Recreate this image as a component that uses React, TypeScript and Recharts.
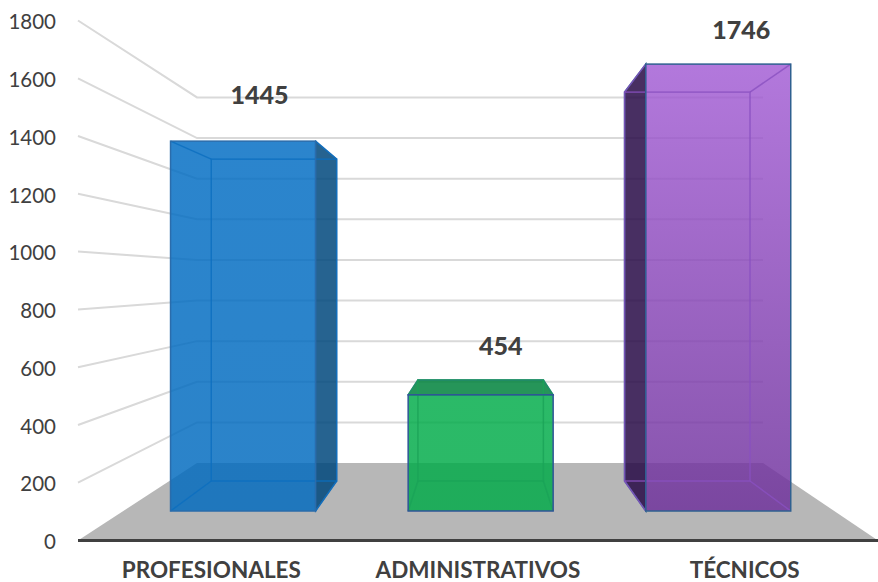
import React from "react";
import { BarChart, Bar, XAxis, YAxis, CartesianGrid, LabelList } from "recharts";

const categories = ["PROFESIONALES", "ADMINISTRATIVOS", "TÉCNICOS"];
const values = [1445, 454, 1746];
const yTicks = [0, 200, 400, 600, 800, 1000, 1200, 1400, 1600, 1800];

const data = categories.map((name, i) => ({ name, value: values[i] }));

const W = 878;
const H = 582;
const PLOT_LEFT = 78;
const PLOT_TOP = 20.5;
const PLOT_BOTTOM = 540.5;
const XAXIS_H = H - PLOT_BOTTOM;

// 3-D projection: the plot plane seen in perspective
const VANISH_X = 480.5;
const CENTER_X = 478;
const FRONT_X = 0.891;
const BACK_X = 0.775;
const FRONT_Y = 0.886;
const BACK_Y = 0.771;
const BACK_W = 0.865;
const FRONT_BASE = 511;
const BACK_BASE = 481;
const WALL_BASE = 463;
const WALL_Y = 0.703;
const WALL_LEFT = 197;
const WALL_RIGHT = 763;

const STYLES = [
  { top: "rgb(0,108,195)", bottom: "rgb(0,106,190)", dark: "rgb(0,72,125)", inner: "#0b6ebf", border: "#2b6cab" },
  { top: "rgb(0,172,73)", bottom: "rgb(0,170,72)", dark: "rgb(0,130,60)", inner: "#1aa257", border: "#2f5597" },
  { top: "rgb(163,93,213)", bottom: "rgb(110,48,155)", dark: "rgb(40,10,70)", inner: "#8a50c0", border: "#2f6090" },
];
const LABEL_DX = [16.5, 20, 23];
const LABEL_DY = [47, 50, 35];

function project(x: number, width: number, height: number) {
  const cx = x + width / 2;
  const fc = VANISH_X + (cx - CENTER_X) * FRONT_X;
  const bc = VANISH_X + (cx - CENTER_X) * BACK_X;
  const bw = width * BACK_W;
  return {
    fc,
    fl: fc - width / 2,
    fr: fc + width / 2,
    ft: FRONT_BASE - height * FRONT_Y,
    fb: FRONT_BASE,
    bl: bc - bw / 2,
    br: bc + bw / 2,
    bt: BACK_BASE - height * BACK_Y,
    bb: BACK_BASE,
  };
}

const poly = (pts: number[][]) => pts.map((p) => p.join(",")).join(" ");

function Box3D(props: any) {
  const { x, width, height, index } = props;
  const s = STYLES[index];
  const p = project(x, width, height);
  const gid = `face-${index}`;
  const edge = { stroke: s.inner, strokeWidth: 1.5, strokeOpacity: 0.8, fill: "none" };
  return (
    <g>
      <defs>
        <linearGradient id={gid} x1="0" y1="0" x2="0" y2="1">
          <stop offset="0%" stopColor={s.top} />
          <stop offset="100%" stopColor={s.bottom} />
        </linearGradient>
      </defs>
      {p.br > p.fr && (
        <polygon
          points={poly([[p.fr, p.ft], [p.br, p.bt], [p.br, p.bb], [p.fr, p.fb]])}
          fill={s.dark}
          fillOpacity={0.85}
          stroke={s.border}
          strokeWidth={1.2}
        />
      )}
      {p.bl < p.fl && (
        <polygon
          points={poly([[p.fl, p.ft], [p.bl, p.bt], [p.bl, p.bb], [p.fl, p.fb]])}
          fill={s.dark}
          fillOpacity={0.85}
          stroke={s.border}
          strokeWidth={1.5}
        />
      )}
      {p.bt < p.ft && (
        <polygon
          points={poly([[p.fl, p.ft], [p.bl, p.bt], [p.br, p.bt], [p.fr, p.ft]])}
          fill={s.dark}
          fillOpacity={0.85}
          stroke={s.border}
          strokeWidth={1.2}
        />
      )}
      <rect
        x={p.fl}
        y={p.ft}
        width={p.fr - p.fl}
        height={p.fb - p.ft}
        fill={`url(#${gid})`}
        fillOpacity={0.83}
      />
      <rect x={p.bl} y={p.bt} width={p.br - p.bl} height={p.bb - p.bt} {...edge} />
      <line x1={p.fl} y1={p.ft} x2={p.bl} y2={p.bt} {...edge} />
      <line x1={p.fr} y1={p.ft} x2={p.br} y2={p.bt} {...edge} />
      <line x1={p.fl} y1={p.fb} x2={p.bl} y2={p.bb} {...edge} />
      <line x1={p.fr} y1={p.fb} x2={p.br} y2={p.bb} {...edge} />
      <rect
        x={p.fl}
        y={p.ft}
        width={p.fr - p.fl}
        height={p.fb - p.ft}
        fill="none"
        stroke={s.border}
        strokeWidth={1.5}
      />
    </g>
  );
}

function WallLine(props: any) {
  const { y1, index } = props;
  const wy = WALL_BASE - (PLOT_BOTTOM - y1) * WALL_Y;
  if (Math.abs(y1 - PLOT_BOTTOM) < 1) {
    return (
      <polygon
        key={`floor-${index}`}
        points={poly([[PLOT_LEFT, PLOT_BOTTOM], [WALL_LEFT, WALL_BASE], [WALL_RIGHT, WALL_BASE], [W, PLOT_BOTTOM]])}
        fill="#b7b7b7"
      />
    );
  }
  return (
    <polyline
      key={`wall-${index}`}
      points={poly([[PLOT_LEFT, y1], [WALL_LEFT, wy], [WALL_RIGHT, wy]])}
      fill="none"
      stroke="#d9d9d9"
      strokeWidth={2}
    />
  );
}

function ValueLabel(props: any) {
  const { x, width, height, value, index } = props;
  const p = project(x, width, height);
  return (
    <text
      x={p.fc + LABEL_DX[index]}
      y={p.ft - LABEL_DY[index]}
      textAnchor="middle"
      dominantBaseline="central"
      fontFamily="Lato, sans-serif"
      fontWeight={900}
      fontSize={25}
      fill="#404040"
    >
      {value}
    </text>
  );
}

export default function App() {
  return (
    <div style={{ position: "absolute", left: 0, top: 0, width: W, height: H, background: "#fff" }}>
      <BarChart
        width={W}
        height={H}
        data={data}
        margin={{ top: PLOT_TOP, right: 0, bottom: 0, left: 0 }}
        barSize={145}
      >
        <CartesianGrid vertical={false} horizontal={WallLine as any} />
        <XAxis
          dataKey="name"
          height={XAXIS_H}
          tickLine={false}
          axisLine={{ stroke: "#404040", strokeWidth: 3 }}
          interval={0}
          tickMargin={16}
          tick={{ fill: "#404040", fontFamily: "Lato, sans-serif", fontWeight: 700, fontSize: 22.5 }}
        />
        <YAxis
          width={PLOT_LEFT}
          domain={[0, 1800]}
          ticks={yTicks}
          axisLine={false}
          tickLine={false}
          tickMargin={16}
          tick={{ fill: "#404040", fontFamily: "Lato, sans-serif", fontSize: 20.5, dy: 1.5 }}
        />
        <Bar dataKey="value" isAnimationActive={false} shape={<Box3D />}>
          <LabelList dataKey="value" content={<ValueLabel />} />
        </Bar>
      </BarChart>
    </div>
  );
}
